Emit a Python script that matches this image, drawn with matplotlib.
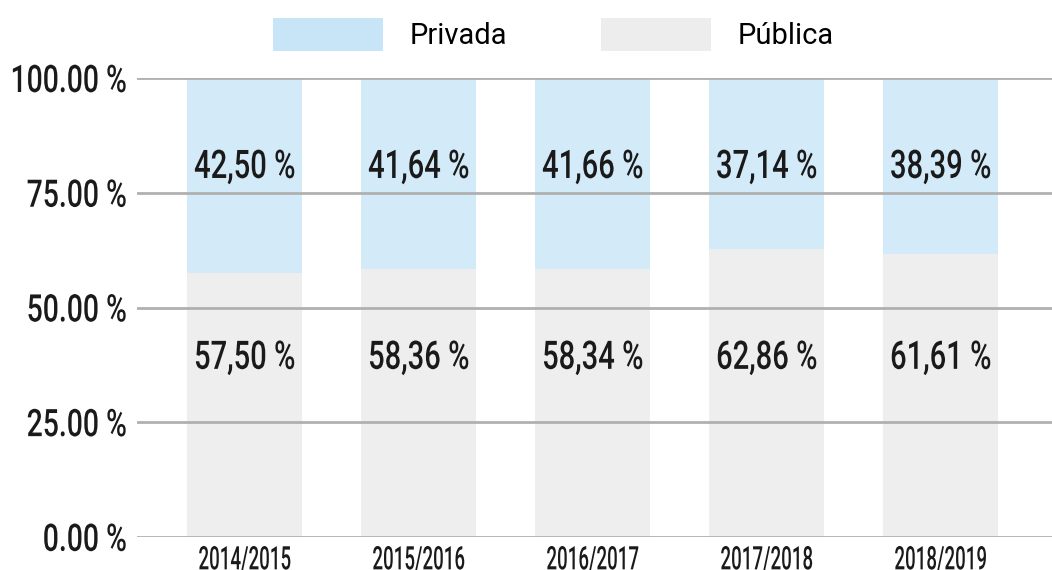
import numpy as np
import matplotlib.pyplot as plt
from matplotlib.patches import Patch
from matplotlib.patheffects import AbstractPathEffect
from matplotlib.transforms import Affine2D

years = ['2014/2015', '2015/2016', '2016/2017', '2017/2018', '2018/2019']
privada = [42.50, 41.64, 41.66, 37.14, 38.39]
publica = [57.50, 58.36, 58.34, 62.86, 61.61]
yticks = [0, 25, 50, 75, 100]

blue = '#d3eaf9'
grey = '#eeeeee'
ink = '#1a1a1a'


class Stretch(AbstractPathEffect):
    # pull glyphs taller around their own middle, to fake a narrow hand font
    def __init__(self, sy):
        super().__init__()
        self.sy = sy

    def draw_path(self, renderer, gc, tpath, affine, rgbFace=None):
        ext = tpath.get_extents()
        cy = (ext.y0 + ext.y1) / 2
        t = Affine2D().translate(0, -cy).scale(1, self.sy).translate(0, cy) + affine
        renderer.draw_path(gc, tpath, t, rgbFace)


fig = plt.figure(figsize=(10.52, 5.70), dpi=100)
ax = fig.add_axes([0.130, 0.058, 0.870, 0.805])

x = np.arange(len(years))
ax.bar(x, publica, width=0.66, color=grey, zorder=1)
ax.bar(x, privada, width=0.66, bottom=publica, color=blue, zorder=1)

lab = dict(ha='center', va='center', fontsize=21, family='Roboto', weight='medium',
           color=ink, zorder=3, path_effects=[Stretch(1.35)])
for i in x:
    ax.text(i, 80.6, '{:.2f} %'.format(privada[i]).replace('.', ','), **lab)
    ax.text(i, 39.0, '{:.2f} %'.format(publica[i]).replace('.', ','), **lab)

for y in yticks:
    ax.axhline(y, color='#b0b0b0', lw=2, zorder=2)

ax.set_xlim(-0.62, 4.64)
ax.set_ylim(0, 100)
ax.set_yticks(yticks)
ax.set_yticklabels(['{:.2f} %'.format(v) for v in yticks], fontsize=20.4, family='Roboto',
                   weight='medium', color=ink)
ax.set_xticks(x)
ax.set_xticklabels(years, fontsize=13.5, family='Roboto', weight='medium', color=ink)
for t in ax.get_yticklabels():
    t.set_path_effects([Stretch(1.34)])
for t in ax.get_xticklabels():
    t.set_path_effects([Stretch(1.73)])
ax.tick_params(length=0)
ax.tick_params(axis='y', pad=7)
ax.tick_params(axis='x', pad=10)
for s in ax.spines.values():
    s.set_visible(False)

handles = [Patch(facecolor='#c8e5f8', edgecolor='none', label='Privada'),
           Patch(facecolor='#ededed', edgecolor='none', label='Pública')]
fig.legend(handles=handles, loc='center', bbox_to_anchor=(0.526, 0.939), ncol=2, frameon=False,
           prop={'family': 'Roboto', 'size': 21}, handlelength=3.77, handleheight=1.37,
           handletextpad=0.89, columnspacing=3.25)

fig.savefig('out.png', dpi=100)
